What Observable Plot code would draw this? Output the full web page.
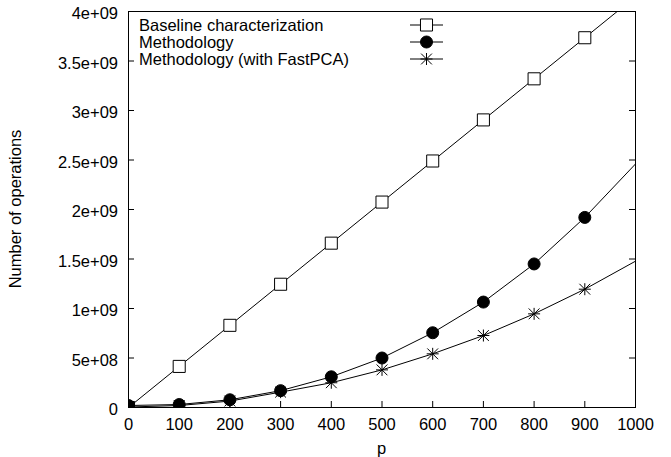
<!DOCTYPE html>
<html><head><meta charset="utf-8">
<script src="https://cdn.jsdelivr.net/npm/d3@7"></script>
<script src="https://cdn.jsdelivr.net/npm/@observablehq/plot@0.6"></script>
<style>
body{margin:0;background:#fff}
svg{font-family:"Liberation Sans",Arial,Helvetica,sans-serif}
</style>
</head><body><div id="chart"></div>
<script>
// ---- data ----
const pValues = [0, 100, 200, 300, 400, 500, 600, 700, 800, 900, 1000];
const baselineOps = [0, 0.415e9, 0.83e9, 1.245e9, 1.66e9, 2.075e9, 2.49e9, 2.905e9, 3.32e9, 3.735e9, 4.15e9];
const methodologyOps = [0.02e9, 0.03e9, 0.078e9, 0.17e9, 0.31e9, 0.5e9, 0.755e9, 1.065e9, 1.45e9, 1.92e9, 2.46e9];
const fastPcaOps = [0.005e9, 0.02e9, 0.065e9, 0.155e9, 0.25e9, 0.38e9, 0.542e9, 0.727e9, 0.946e9, 1.195e9, 1.478e9];
const seriesNames = ["Baseline characterization", "Methodology", "Methodology (with FastPCA)"];
const xTicks = [0, 100, 200, 300, 400, 500, 600, 700, 800, 900, 1000];
const yTicks = [0, 5e8, 1e9, 1.5e9, 2e9, 2.5e9, 3e9, 3.5e9, 4e9];
const yTickLabels = ["0", "5e+08", "1e+09", "1.5e+09", "2e+09", "2.5e+09", "3e+09", "3.5e+09", "4e+09"];
const xLabel = "p";
const yLabel = "Number of operations";

// ---- layout ----
const W = 671, H = 457;
const M = {left: 128, right: 36, top: 11, bottom: 50};
const plotW = W - M.left - M.right, plotH = H - M.top - M.bottom;
const FS = 16.5;
const TICK = 6;

const seriesValues = [baselineOps, methodologyOps, fastPcaOps];
const rows = [];
seriesNames.forEach((s, i) => pValues.forEach((p, j) => rows.push({series: s, p, value: seriesValues[i][j]})));
// gnuplot skipped the markers sitting on the right border
const lastP = pValues[pValues.length - 1];
const markerRows = s => rows.filter(d => d.series === s && d.p < lastP);

const asterisk = {
  draw(ctx, size) {
    const r = Math.sqrt(size / Math.PI), d = r * 0.9;
    ctx.moveTo(-r, 0); ctx.lineTo(r, 0);
    ctx.moveTo(0, -r); ctx.lineTo(0, r);
    ctx.moveTo(-d, -d); ctx.lineTo(d, d);
    ctx.moveTo(-d, d); ctx.lineTo(d, -d);
  }
};
const symbols = [
  {symbol: "square", r: 6.8, fill: "white", stroke: "black"},
  {symbol: "circle", r: 6, fill: "black", stroke: "black"},
  {symbol: asterisk, r: 6, fill: "none", stroke: "black"}
];

const chart = Plot.plot({
  width: W, height: H,
  marginLeft: M.left, marginRight: M.right, marginTop: M.top, marginBottom: M.bottom,
  style: {fontFamily: '"Liberation Sans", Arial, sans-serif', fontSize: FS + "px", background: "white", color: "black"},
  x: {domain: [0, 1000], ticks: xTicks},
  y: {domain: [0, 4e9], ticks: yTicks},
  marks: [
    // inward ticks: left, right, bottom
    Plot.ruleY(yTicks, {y: d => d, insetRight: plotW - TICK, stroke: "black"}),
    Plot.ruleY(yTicks, {y: d => d, insetLeft: plotW - TICK, stroke: "black"}),
    Plot.ruleX(xTicks, {x: d => d, insetTop: plotH - TICK, stroke: "black"}),
    Plot.axisY(yTicks, {tickSize: 0, tickPadding: 10.5, label: null, dy: 2.4,
      tickFormat: (d, i) => yTickLabels[yTicks.indexOf(d)], fontSize: FS, fill: "black"}),
    Plot.axisX(xTicks, {tickSize: 0, tickPadding: 11, label: null, fontSize: FS, fill: "black",
      tickFormat: d => String(d)}),
    Plot.line(rows, {x: "p", y: "value", z: "series", stroke: "black", strokeWidth: 1, clip: true}),
    ...seriesNames.map((s, i) => Plot.dot(markerRows(s), {x: "p", y: "value",
      symbol: symbols[i].symbol, r: symbols[i].r, fill: symbols[i].fill, stroke: symbols[i].stroke,
      strokeWidth: 1, clip: true})),
    Plot.frame({stroke: "black", strokeWidth: 1})
  ]
});

const svg = d3.select(chart);
// axis titles
svg.append("text").attr("x", M.left + plotW / 2).attr("y", 453.5)
  .attr("text-anchor", "middle").attr("font-size", FS).attr("fill", "black").text(xLabel);
svg.append("text").attr("transform", `translate(21,${M.top + plotH / 2}) rotate(-90)`)
  .attr("text-anchor", "middle").attr("font-size", FS).attr("fill", "black").text(yLabel);

// legend (top-left, inside)
const lg = svg.append("g");
const symFns = [d3.symbolSquare, d3.symbolCircle, asterisk];
seriesNames.forEach((s, i) => {
  const cy = 25 + i * 17;
  lg.append("text").attr("x", 139).attr("y", cy + 6).attr("text-anchor", "start")
    .attr("font-size", FS).attr("fill", "black").text(s);
  lg.append("line").attr("x1", 410).attr("x2", 443).attr("y1", cy).attr("y2", cy).attr("stroke", "black");
  lg.append("path").attr("transform", `translate(426.5,${cy})`)
    .attr("d", d3.symbol(symFns[i], Math.PI * symbols[i].r * symbols[i].r)())
    .attr("fill", symbols[i].fill).attr("stroke", symbols[i].stroke);
});

document.getElementById("chart").appendChild(chart);
</script>
</body></html>
